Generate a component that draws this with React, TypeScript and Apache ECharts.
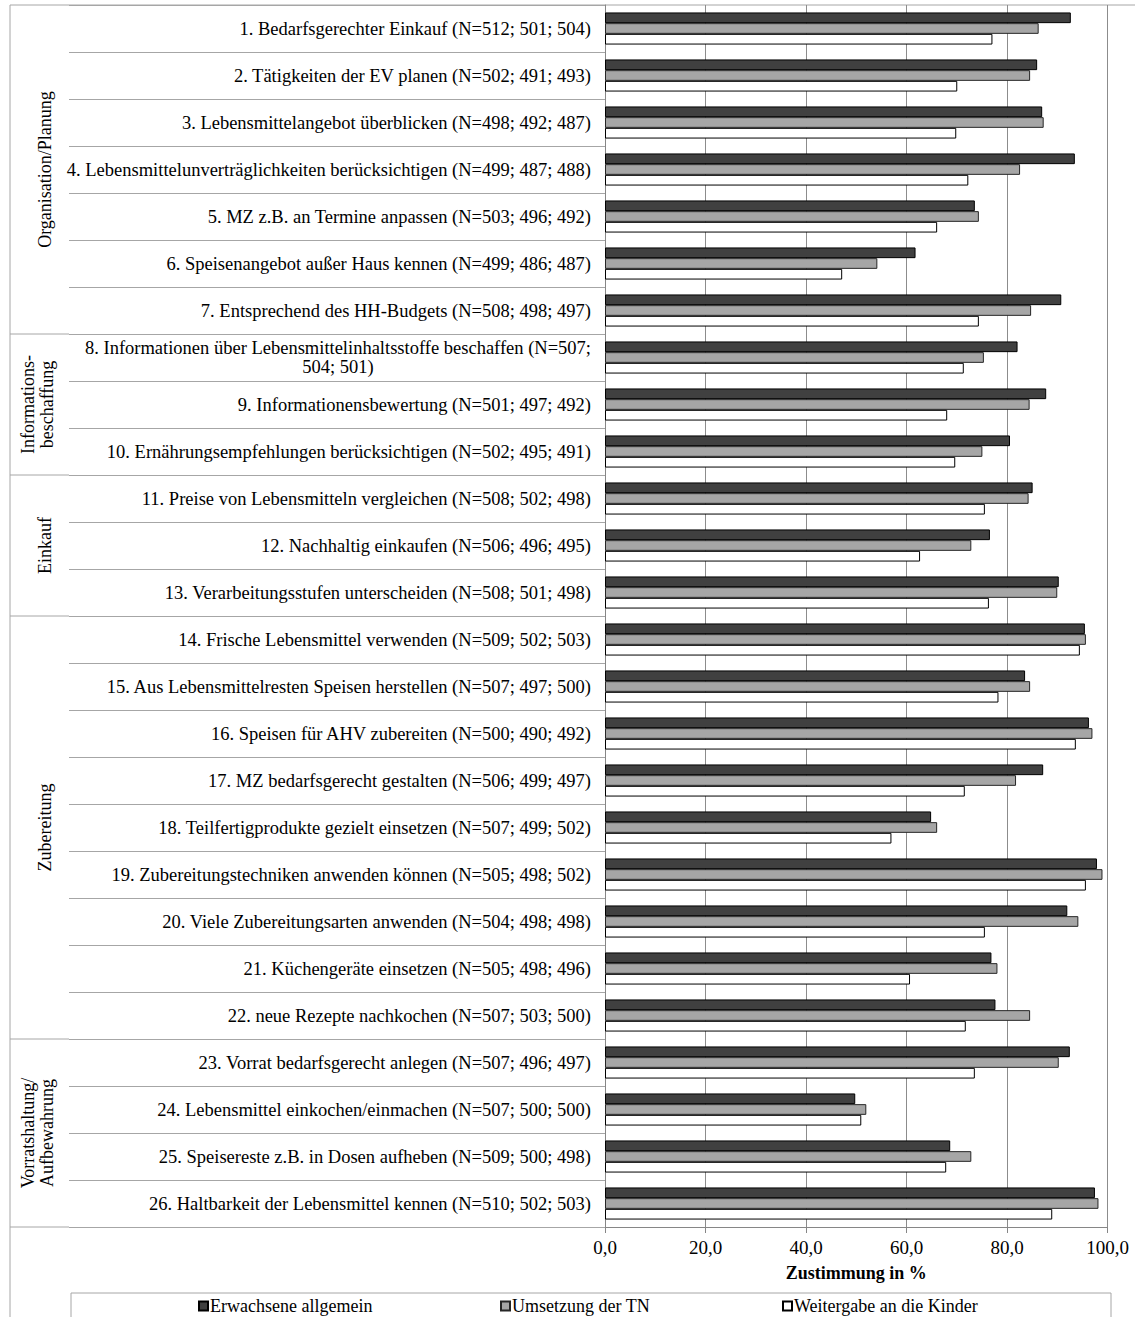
import React, { useEffect, useRef } from "react";
import * as echarts from "echarts";

const categories = [
  "1. Bedarfsgerechter Einkauf (N=512; 501; 504)",
  "2. Tätigkeiten der EV planen (N=502; 491; 493)",
  "3. Lebensmittelangebot überblicken (N=498; 492; 487)",
  "4. Lebensmittelunverträglichkeiten berücksichtigen (N=499; 487; 488)",
  "5. MZ z.B. an Termine anpassen (N=503; 496; 492)",
  "6. Speisenangebot außer Haus kennen (N=499; 486; 487)",
  "7. Entsprechend des HH-Budgets (N=508; 498; 497)",
  "8. Informationen über Lebensmittelinhaltsstoffe beschaffen (N=507;\n504; 501)",
  "9. Informationensbewertung (N=501; 497; 492)",
  "10. Ernährungsempfehlungen berücksichtigen (N=502; 495; 491)",
  "11. Preise von Lebensmitteln vergleichen (N=508; 502; 498)",
  "12. Nachhaltig einkaufen (N=506; 496; 495)",
  "13. Verarbeitungsstufen unterscheiden (N=508; 501; 498)",
  "14. Frische Lebensmittel verwenden (N=509; 502; 503)",
  "15. Aus Lebensmittelresten Speisen herstellen (N=507; 497; 500)",
  "16. Speisen für AHV zubereiten (N=500; 490; 492)",
  "17. MZ bedarfsgerecht gestalten (N=506; 499; 497)",
  "18. Teilfertigprodukte gezielt einsetzen (N=507; 499; 502)",
  "19. Zubereitungstechniken anwenden können (N=505; 498; 502)",
  "20. Viele Zubereitungsarten anwenden (N=504; 498; 498)",
  "21. Küchengeräte einsetzen (N=505; 498; 496)",
  "22. neue Rezepte nachkochen (N=507; 503; 500)",
  "23. Vorrat bedarfsgerecht anlegen (N=507; 496; 497)",
  "24. Lebensmittel einkochen/einmachen (N=507; 500; 500)",
  "25. Speisereste z.B. in Dosen aufheben (N=509; 500; 498)",
  "26. Haltbarkeit der Lebensmittel kennen (N=510; 502; 503)",
];

const seriesNames = ["Erwachsene allgemein", "Umsetzung der TN", "Weitergabe an die Kinder"];

const erwachsene = [92.7, 86.0, 87.0, 93.5, 73.6, 61.8, 90.8, 82.1, 87.8, 80.6, 85.1, 76.6, 90.3, 95.5, 83.6, 96.3, 87.2, 64.9, 97.9, 92.0, 76.9, 77.7, 92.5, 49.8, 68.7, 97.5];
const umsetzung = [86.3, 84.6, 87.3, 82.6, 74.4, 54.2, 84.8, 75.4, 84.5, 75.1, 84.3, 72.9, 90.0, 95.7, 84.6, 97.0, 81.8, 66.1, 99.0, 94.2, 78.1, 84.6, 90.3, 52.0, 72.9, 98.2];
const weitergabe = [77.1, 70.1, 69.9, 72.3, 66.1, 47.2, 74.4, 71.4, 68.1, 69.7, 75.6, 62.7, 76.4, 94.5, 78.3, 93.7, 71.6, 57.0, 95.7, 75.6, 60.7, 71.8, 73.6, 51.0, 67.9, 89.0];

const groupNames = ["Organisation/Planung", "Informations-\nbeschaffung", "Einkauf", "Zubereitung", "Vorratshaltung/\nAufbewahrung"];
const groupSizes = [7, 3, 3, 9, 4];

const xTicks = { min: 0, max: 100, interval: 20 };
const axisTitle = "Zustimmung in %";

const FONT = '"Liberation Serif", "Times New Roman", serif';

export default function App() {
  const ref = useRef<HTMLDivElement>(null);
  useEffect(() => {
    if (!ref.current) return;
    const chart = echarts.init(ref.current, undefined, { renderer: "svg" });
    const gridLeft = 605;
    const gridTop = 5;
    const gridW = 502.5;
    const gridH = 1222;
    const rowH = gridH / categories.length;
    const colLeft = 10;
    const tickLen = 536;
    const sepLeft = gridLeft - tickLen;
    const lineColor = "#a6a6a6";
    const labelSize = 18.5;

    const graphics: any[] = [];
    graphics.push({ type: "line", shape: { x1: colLeft, y1: gridTop, x2: 1135, y2: gridTop }, style: { stroke: lineColor, lineWidth: 1 }, silent: true });
    graphics.push({ type: "line", shape: { x1: colLeft, y1: gridTop, x2: colLeft, y2: 1317 }, style: { stroke: lineColor, lineWidth: 1 }, silent: true });
    let cum = 0;
    groupNames.forEach((g, i) => {
      const start = cum;
      cum += groupSizes[i];
      const yEnd = gridTop + cum * rowH;
      graphics.push({ type: "line", shape: { x1: colLeft, y1: yEnd, x2: sepLeft, y2: yEnd }, style: { stroke: lineColor, lineWidth: 1 }, silent: true });
      const yMid = gridTop + ((start + cum) / 2) * rowH;
      const multi = g.indexOf("\n") >= 0;
      graphics.push({
        type: "text",
        x: multi ? 37 : 45,
        y: yMid,
        rotation: Math.PI / 2,
        silent: true,
        style: {
          text: g,
          fontSize: 18,
          fontFamily: FONT,
          fill: "#000",
          align: "center",
          verticalAlign: "middle",
          textAlign: "center",
          textVerticalAlign: "middle",
          lineHeight: 19,
        },
      });
    });
    graphics.push({ type: "rect", shape: { x: 71, y: 1293, width: 1040, height: 40 }, style: { fill: "none", stroke: lineColor, lineWidth: 1 }, silent: true, z: -1 });

    const legendCommon = {
      icon: "rect",
      itemWidth: 9,
      itemHeight: 9,
      itemGap: 0,
      padding: 0,
      top: 1297,
      textStyle: { fontSize: 18, fontFamily: FONT, color: "#000", padding: [0, 0, 0, -3] },
    };

    const barCommon = { type: "bar", barWidth: 10.7, barGap: "0%" };

    chart.setOption({
      animation: false,
      backgroundColor: "#fff",
      grid: { left: gridLeft, top: gridTop, width: gridW, height: gridH, containLabel: false },
      legend: [
        { ...legendCommon, data: [seriesNames[0]], left: 198 },
        { ...legendCommon, data: [seriesNames[1]], left: 500 },
        { ...legendCommon, data: [seriesNames[2]], left: 782 },
      ],
      xAxis: {
        type: "value",
        min: xTicks.min,
        max: xTicks.max,
        interval: xTicks.interval,
        axisLine: { show: true, lineStyle: { color: "#868686" } },
        axisTick: { show: true, length: 6, lineStyle: { color: "#868686" } },
        axisLabel: {
          formatter: (v: number) => v.toFixed(1).replace(".", ","),
          fontSize: 19,
          fontFamily: FONT,
          color: "#000",
          margin: 11,
        },
        splitLine: { show: true, lineStyle: { color: "#8c8c8c", width: 1 } },
        name: axisTitle,
        nameLocation: "middle",
        nameGap: 37,
        nameTextStyle: { fontWeight: "bold", fontSize: 18, fontFamily: FONT, color: "#000" },
      },
      yAxis: {
        type: "category",
        inverse: true,
        data: categories,
        axisLine: { show: true, lineStyle: { color: "#868686" } },
        axisTick: { show: true, interval: 0, length: tickLen, lineStyle: { color: lineColor } },
        axisLabel: {
          interval: 0,
          margin: 14,
          fontSize: labelSize,
          fontFamily: FONT,
          color: "#000",
          formatter: (v: string) => {
            if (v.indexOf("\n") >= 0) {
              return v.split("\n").map((s) => "{c|" + s + "}").join("\n");
            }
            return v;
          },
          rich: {
            c: { fontSize: labelSize, fontFamily: FONT, color: "#000", align: "center", lineHeight: 19 },
          },
        },
        splitLine: { show: false },
      },
      graphic: graphics,
      series: [
        { ...barCommon, name: seriesNames[0], data: erwachsene, itemStyle: { color: "#404040", borderColor: "#000", borderWidth: 1 } },
        { ...barCommon, name: seriesNames[1], data: umsetzung, itemStyle: { color: "#a6a6a6", borderColor: "#262626", borderWidth: 1 } },
        { ...barCommon, name: seriesNames[2], data: weitergabe, itemStyle: { color: "#ffffff", borderColor: "#000", borderWidth: 1 } },
      ],
    });
    return () => chart.dispose();
  }, []);
  return (
    <div
      ref={ref}
      style={{ position: "absolute", left: 0, top: 0, width: 1135, height: 1317, background: "#fff" }}
    />
  );
}
